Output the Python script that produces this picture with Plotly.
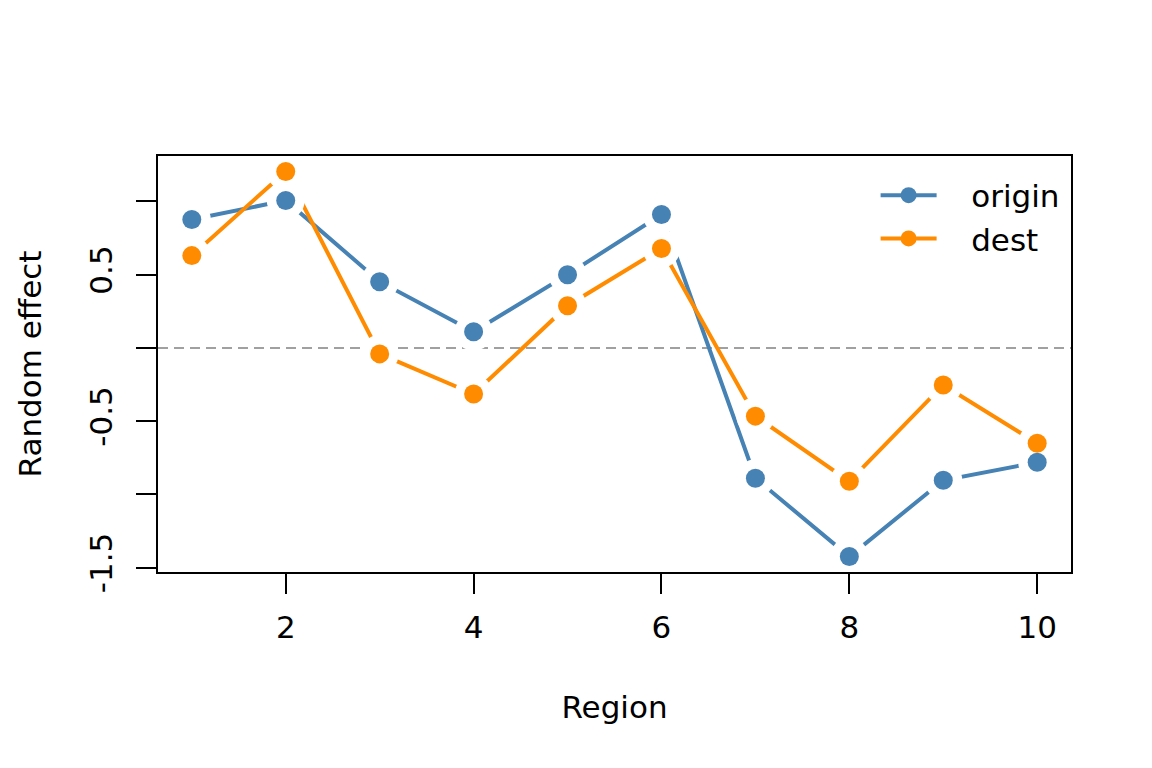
import plotly.graph_objects as go

region = [1, 2, 3, 4, 5, 6, 7, 8, 9, 10]
origin = [0.877, 1.007, 0.452, 0.110, 0.500, 0.911, -0.890, -1.425, -0.904, -0.781]
dest = [0.630, 1.205, -0.041, -0.315, 0.288, 0.678, -0.466, -0.911, -0.253, -0.651]
y_ticks = [-1.5, -1.0, -0.5, 0.0, 0.5, 1.0]
y_ticktext = ["-1.5", "", "-0.5", "", "0.5", ""]
x_ticks = [2, 4, 6, 8, 10]

BLUE = "#4682B4"
ORANGE = "#FF8C00"
FONT = "DejaVu Sans"
FS = 31
GAP = "\u00a0\u00a0\u00a0"

def pad(lo, hi):
    d = (hi - lo) * 0.04
    return [lo - d, hi + d]

allv = origin + dest
xr = pad(min(region), max(region))
yr = pad(min(allv), max(allv))

fig = go.Figure()
series = [("origin", origin, BLUE), ("dest", dest, ORANGE)]
for name, vals, col in series:
    fig.add_trace(go.Scatter(x=region, y=vals, mode="lines+markers", name=GAP + name,
                             line=dict(color=col, width=4),
                             marker=dict(color=col, size=19, line=dict(width=0))))
for name, vals, col in series:
    fig.add_trace(go.Scatter(x=region, y=vals, mode="markers", showlegend=False,
                             hoverinfo="skip",
                             marker=dict(color="white", size=38, line=dict(width=0))))
for name, vals, col in series:
    fig.add_trace(go.Scatter(x=region, y=vals, mode="markers", showlegend=False,
                             marker=dict(color=col, size=19, line=dict(width=0))))

fig.add_hline(y=0, line=dict(color="#A0A0A0", width=2, dash="10px,6px"), layer="below")

fig.update_layout(
    width=1152, height=768,
    margin=dict(l=158, r=81, t=156, b=196),
    paper_bgcolor="white", plot_bgcolor="white",
    font=dict(family=FONT, size=FS, color="black"),
    showlegend=True,
    legend=dict(x=0.993, y=0.97, xanchor="right", yanchor="top",
                bgcolor="rgba(0,0,0,0)", font=dict(family=FONT, size=FS, color="black"),
                itemwidth=56, tracegroupgap=0),
    xaxis=dict(range=xr, tickvals=x_ticks, ticks="outside", ticklen=20, tickwidth=2,
               tickcolor="black", showline=True, linecolor="black", linewidth=2,
               mirror=True, showgrid=False, zeroline=False,
               tickfont=dict(family=FONT, size=FS, color="black"),
               title=dict(text="Region", standoff=52,
                          font=dict(family=FONT, size=FS, color="black")),
               ticklabelstandoff=7),
    yaxis=dict(range=yr, tickvals=y_ticks, ticktext=y_ticktext, ticks="outside",
               ticklen=20, tickwidth=2, tickcolor="black", showline=True,
               linecolor="black", linewidth=2, mirror=True, showgrid=False,
               zeroline=False, tickangle=-90,
               tickfont=dict(family=FONT, size=FS, color="black"),
               title=dict(text="Random effect", standoff=32,
                          font=dict(family=FONT, size=FS, color="black")),
               ticklabelstandoff=12),
)

fig.write_html("out.html")
